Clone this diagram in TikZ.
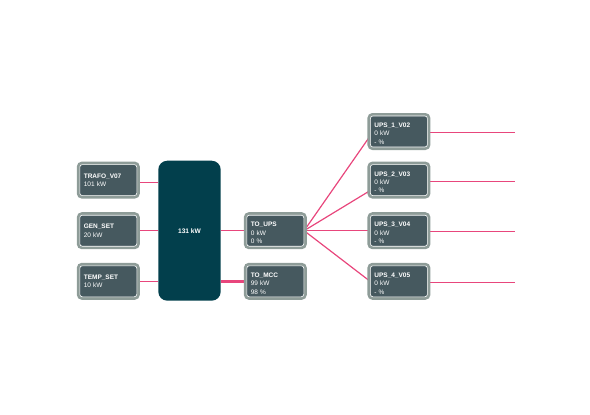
\documentclass[tikz,border=0pt]{standalone}
\usepackage{fontspec}
\setmainfont{Liberation Sans}
\usetikzlibrary{positioning,backgrounds}
\definecolor{unitfill}{HTML}{46595F}
\definecolor{unitring}{HTML}{8E9C98}
\definecolor{busfill}{HTML}{023F4C}
\definecolor{feedpink}{HTML}{E8467C}
\tikzset{
	unit/.style={fill=unitfill, draw=white, line width=0.6pt, rounded corners=2.5pt,
		preaction={draw=unitring, line width=6pt},
		minimum width=57pt, minimum height=31pt, text width=49pt, inner xsep=4pt,
		inner ysep=1pt, align=left, text=white, font=\fontsize{6.5}{8.4}\selectfont},
	unitlow/.style={unit, text height=9pt},
	busbar/.style={fill=busfill, rounded corners=9pt, minimum width=62.4pt,
		minimum height=140pt, text=white, font=\fontsize{6.6}{8}\selectfont\bfseries},
	feed/.style={draw=feedpink, line width=1.2pt},
}

\begin{document}
\begin{tikzpicture}[x=1pt, y=-1pt]
	\useasboundingbox (0,0) rectangle (590,415);

	\node[busbar] (bus) at (189.5,230.7) {131 kW};
	\node[unit, left=21pt of bus] (gen) {\textbf{GEN\_SET}\\20 kW};
	\node[unit, above=19pt of gen] (trafo) {\textbf{TRAFO\_V07}\\101 kW};
	\node[unit, below=19pt of gen] (temp) {\textbf{TEMP\_SET}\\10 kW};

	\node[unitlow, right=25.6pt of bus] (toups) {\textbf{TO\_UPS}\\0 kW\\0 \%};
	\node[unitlow, below=19pt of toups] (tomcc) {\textbf{TO\_MCC}\\99 kW\\98 \%};

	\node[unitlow, right=66pt of toups] (ups3) {\textbf{UPS\_3\_V04}\\0 kW\\- \%};
	\node[unitlow, above=19pt of ups3] (ups2) {\textbf{UPS\_2\_V03}\\0 kW\\- \%};
	\node[unitlow, above=17pt of ups2] (ups1) {\textbf{UPS\_1\_V02}\\0 kW\\- \%};
	\node[unitlow, below=19pt of ups3] (ups4) {\textbf{UPS\_4\_V05}\\0 kW\\- \%};

	\coordinate[right=87pt of ups1.east] (end1);
	\coordinate[right=87pt of ups2.east] (end2);
	\coordinate[right=87pt of ups3.east] (end3);
	\coordinate[right=87pt of ups4.east] (end4);

	\begin{scope}[on background layer]
		\draw[feed] ([yshift=-2pt]trafo.east) -- ([yshift=-2pt]trafo.east -| bus.west);
		\draw[feed] (gen.east) -- (gen.east -| bus.west);
		\draw[feed] (temp.east) -- (temp.east -| bus.west);
		\draw[feed] (toups.west -| bus.east) -- (toups.west);
		\draw[feed, line width=3.5pt] (tomcc.west -| bus.east) -- (tomcc.west);

		\draw[feed] (toups.east) -- ([yshift=-4.5pt]ups1.west);
		\draw[feed] (toups.east) -- ([yshift=-10.5pt]ups2.west);
		\draw[feed] (toups.east) -- (ups3.west);
		\draw[feed] (toups.east) -- (ups4.west);

		\draw[feed] ([yshift=-1pt]ups1.east) -- ([yshift=-1pt]end1);
		\draw[feed] ([yshift=-1pt]ups2.east) -- ([yshift=-1pt]end2);
		\draw[feed] ([yshift=-1pt]ups3.east) -- ([yshift=-1pt]end3);
		\draw[feed] ([yshift=-1pt]ups4.east) -- ([yshift=-1pt]end4);
	\end{scope}
\end{tikzpicture}
\end{document}
